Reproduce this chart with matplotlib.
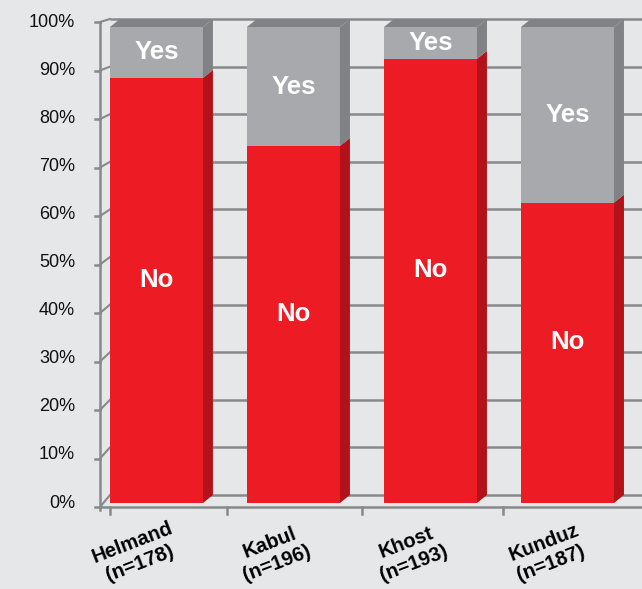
import matplotlib
matplotlib.use("Agg")
import matplotlib.pyplot as plt
from matplotlib.patches import Polygon

# data
provinces = ["Helmand", "Kabul", "Khost", "Kunduz"]
sample_sizes = [178, 196, 193, 187]
no_pct = [89.3, 75.0, 93.3, 63.1]
yes_pct = [10.7, 25.0, 6.7, 36.9]
y_ticks = list(range(0, 101, 10))

BG = "#e6e7e8"
RED = "#ed1c24"
RED_SIDE = "#b3121a"
GRAY = "#a7a9ac"
GRAY_DARK = "#808285"
GRID = "#87898c"

plt.rcParams['font.family'] = ['Liberation Sans', 'DejaVu Sans']

fig = plt.figure(figsize=(6.42, 5.89), dpi=100, facecolor=BG)
ax = fig.add_axes([100 / 642, 86 / 589, 542 / 642, 476 / 589])
x_lo, x_hi = -0.412, 3.544
ax.set_xlim(x_lo, x_hi)
ax.set_ylim(0, 100)
ax.axis('off')

# pixel scale, used for the fake 3D depth
px_x = 542 / (x_hi - x_lo)
px_y = 476 / 100
ddx = 10 / px_x
ddy = 8 / px_y


def fy(v):
    # front axis sits a little in front of the bars
    return (4.85 * v - 4) / px_y


# back wall gridlines
for v in y_ticks:
    ax.plot([x_lo + ddx, x_hi + 0.2], [v + ddy, v + ddy], color=GRID, lw=1.8,
            zorder=1, clip_on=False, solid_capstyle='butt')

# front value axis with ticks
ax.plot([x_lo, x_lo], [fy(0) - 0.6, fy(100)], color=GRID, lw=1.8, zorder=2, clip_on=False)
for v in y_ticks:
    ax.plot([x_lo - 5 / px_x, x_lo], [fy(v), fy(v)], color=GRID, lw=1.8, zorder=2, clip_on=False)
    ax.plot([x_lo, x_lo + ddx], [fy(v), v + ddy], color=GRID, lw=1.5, zorder=2, clip_on=False)
    ax.text(x_lo - 25 / px_x, v * 4.81 / px_y, f"{v}%", ha='right', va='center',
            fontsize=13, color='#111111')

# front category axis
ax.plot([x_lo, x_hi + 0.2], [fy(0), fy(0)], color=GRID, lw=1.8, zorder=2, clip_on=False)
for t in [-0.34, 0.515, 1.5, 2.53]:
    ax.plot([t, t], [fy(0), fy(0) - 7 / px_y], color=GRID, lw=1.8, zorder=2, clip_on=False)

x = list(range(len(provinces)))
w = 93 / px_x
ax.bar(x, no_pct, width=w, color=RED, zorder=3, clip_on=False)
ax.bar(x, yes_pct, bottom=no_pct, width=w, color=GRAY, zorder=3, clip_on=False)

for i in x:
    xl, xr = i - w / 2, i + w / 2
    top = no_pct[i] + yes_pct[i]
    for lo, hi, col in [(0, no_pct[i], RED_SIDE), (no_pct[i], top, GRAY_DARK)]:
        ax.add_patch(Polygon([(xr, lo), (xr + ddx, lo + ddy), (xr + ddx, hi + ddy), (xr, hi)],
                             closed=True, facecolor=col, edgecolor='none', zorder=3, clip_on=False))
    ax.add_patch(Polygon([(xl, top), (xl + ddx, top + ddy), (xr + ddx, top + ddy), (xr, top)],
                         closed=True, facecolor=GRAY_DARK, edgecolor='none', zorder=3, clip_on=False))

    ax.text(i, no_pct[i] / 2 + 2.3, "No", ha='center', va='center', color='white',
            fontsize=18.5, fontweight='bold', zorder=5)
    ax.text(i, no_pct[i] + yes_pct[i] / 2, "Yes", ha='center', va='center', color='white',
            fontsize=18.5, fontweight='bold', zorder=5)

    ax.text(i - 0.146, (503 - 553) / px_y, f"{provinces[i]}\n(n={sample_sizes[i]})",
            rotation=21, rotation_mode='anchor', ha='center', va='center',
            multialignment='center', fontsize=14.5, fontweight='bold', color='black',
            linespacing=1.15)

fig.savefig("out.png", dpi=100, facecolor=BG)
